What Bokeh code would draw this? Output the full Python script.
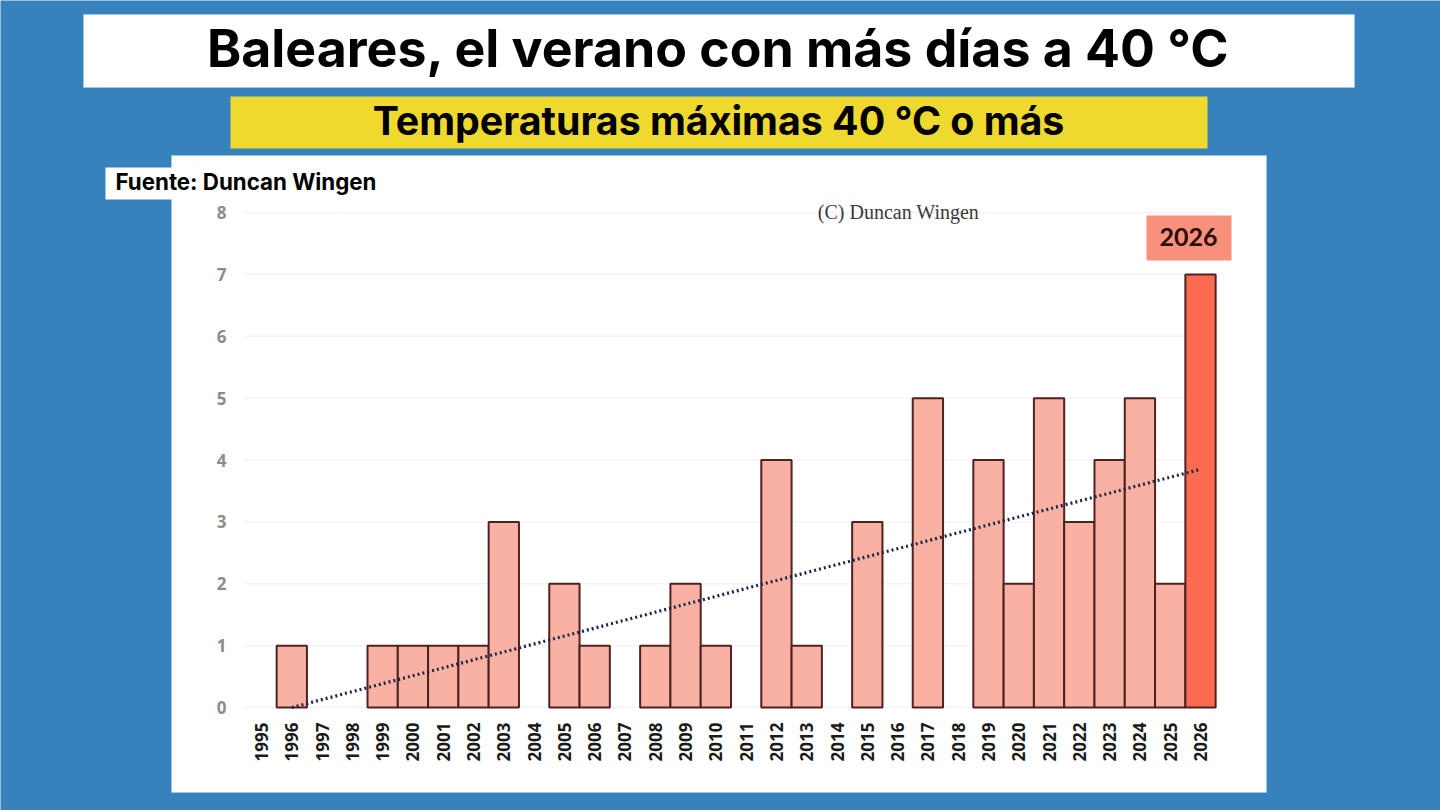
import math

from bokeh.embed import file_html
from bokeh.models import (BoxAnnotation, ColumnDataSource, FixedTicker, Label, LinearAxis,
                          NumeralTickFormatter, Range1d)
from bokeh.plotting import figure
from bokeh.resources import INLINE

years = list(range(1995, 2027))
days = [0, 1, 0, 0, 1, 1, 1, 1, 3, 0, 2, 1, 0, 1, 2, 1, 0, 4, 1, 0, 3, 0, 5, 0, 4, 2, 5, 3, 4, 5, 2, 7]
trend_years = [1996, 2026]
trend_values = [0.0, 3.85]
y_ticks = [0, 1, 2, 3, 4, 5, 6, 7, 8]

TITLE = "Baleares, el verano con más días a 40 °C"
SUBTITLE = "Temperaturas máximas 40 °C o más"
SOURCE = "Fuente: Duncan Wingen"
CREDIT = "(C) Duncan Wingen"
BADGE = "2026"

BLUE = "#3782bd"
BAR = "#f8b1a3"
BAR_HI = "#fc6b52"
EDGE = "#4f2222"
PANEL_EDGE = "#a9dcf0"

W, H = 1440, 810
PX_PER_YEAR = (1200 - 261) / 31
PX_PER_DAY = (707 - 212) / 8
x_start = years[0] - 261 / PX_PER_YEAR
y_end = 707 / PX_PER_DAY

p = figure(
    width=W, height=H, output_backend="svg", toolbar_location=None,
    x_range=Range1d(x_start, x_start + W / PX_PER_YEAR),
    y_range=Range1d(y_end - H / PX_PER_DAY, y_end),
    x_axis_location=None, y_axis_location=None,
    min_border=0, background_fill_color=BLUE, border_fill_color=BLUE, outline_line_color=None,
)
p.grid.visible = False


def panel(l, r, t, b, color, edge=None):
    p.add_layout(BoxAnnotation(left=l, right=r, top=t, bottom=b,
                               left_units="canvas", right_units="canvas",
                               top_units="canvas", bottom_units="canvas",
                               fill_color=color, fill_alpha=1, line_color=edge, line_width=1,
                               level="image"))


def text(t, x, y, size, color="#000000", font="Inter", style="bold", align="center"):
    p.add_layout(Label(x=x, y=y, x_units="canvas", y_units="canvas", text=t,
                       text_font=font, text_font_size=f"{size}px", text_font_style=style,
                       text_color=color, text_align=align, text_baseline="middle", level="overlay"))


panel(83, 1354, 14, 87, "#ffffff", PANEL_EDGE)
panel(230, 1207, 96, 148, "#efd92f")
panel(171, 1266, 155, 792, "#ffffff", PANEL_EDGE)
panel(105, 200, 167, 199, "#ffffff")
panel(1146, 1231, 215, 260, "#f9907d")

text(TITLE, 718, 47, 51.8)
text(SUBTITLE, 718, 120, 39.3)
text(SOURCE, 115, 181, 22.3, align="left")
text(CREDIT, 898, 211, 20, color="#3a3a3a", font="Liberation Serif", style="normal")
text(BADGE, 1188, 236, 25, color="#2a0c0c", font="Lato")

p.segment(x0=[years[0] - 0.6] * len(y_ticks), x1=[years[-1] + 0.5] * len(y_ticks), y0=y_ticks, y1=y_ticks,
          line_color="#f3f3f3", line_width=1.4, level="underlay")

shown = [(y, d) for y, d in zip(years, days) if d > 0]
src = ColumnDataSource(dict(
    year=[y for y, _ in shown],
    days=[d for _, d in shown],
    color=[BAR_HI if str(y) == BADGE else BAR for y, _ in shown],
))
p.vbar(x="year", top="days", bottom=0, width=1.0, source=src, fill_color="color",
       fill_alpha=1, line_color=EDGE, line_width=2)
p.line(trend_years, trend_values, line_color="#1c2748", line_width=3.2, line_dash=[2, 3])

xaxis = LinearAxis(fixed_location=0, ticker=FixedTicker(ticks=years),
                   formatter=NumeralTickFormatter(format="0"),
                   major_label_text_font="Open Sans", major_label_text_font_size="17px",
                   major_label_text_font_style="bold",
                   major_label_text_color="#1a1a1a", major_label_orientation=math.pi / 2,
                   major_label_standoff=9)
yaxis = LinearAxis(fixed_location=years[0] - 0.5, ticker=FixedTicker(ticks=y_ticks),
                   formatter=NumeralTickFormatter(format="0"),
                   major_label_text_font="Open Sans", major_label_text_font_size="17px",
                   major_label_text_font_style="bold",
                   major_label_text_color="#8c8c8c", major_label_standoff=14)
for ax in (xaxis, yaxis):
    ax.axis_line_color = None
    ax.major_tick_line_color = None
    ax.minor_tick_line_color = None
p.add_layout(xaxis, "below")
p.add_layout(yaxis, "left")

open("out.html", "w").write(file_html(p, INLINE))
